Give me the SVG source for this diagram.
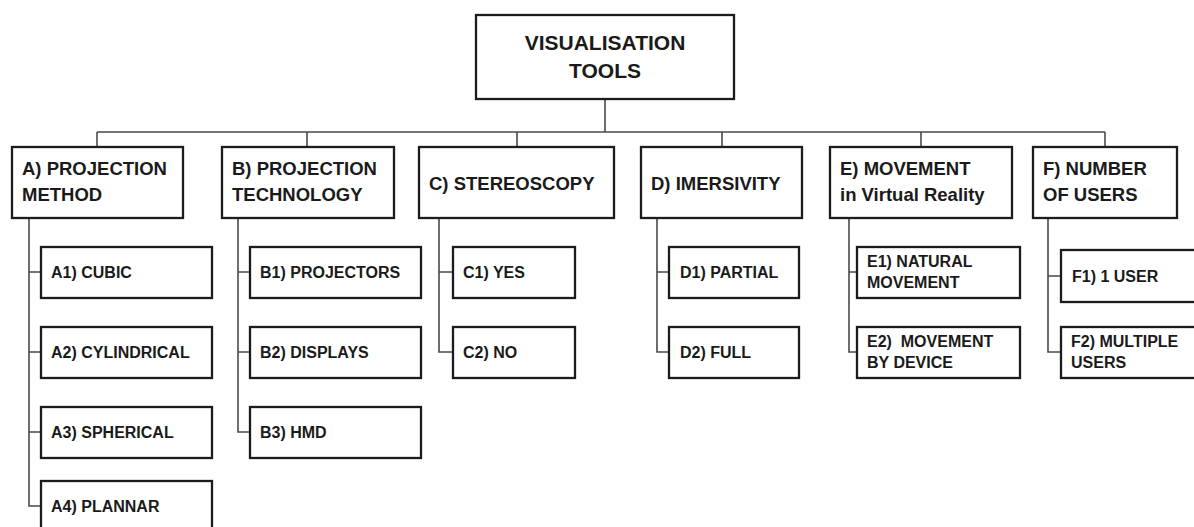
<svg xmlns="http://www.w3.org/2000/svg" width="1194" height="527" viewBox="0 0 1194 527">
<style>
.box{fill:#fff;stroke:#1c1c1c;stroke-width:2.3}
.ln{fill:none;stroke:#4a4a4a;stroke-width:1.6}
text{font-family:"Liberation Sans",Arial,sans-serif;font-weight:bold;fill:#1a1a1a;white-space:pre}
.root{font-size:21px;text-anchor:middle}
.h{font-size:18.5px}
.c{font-size:16px}
</style>
<rect width="1194" height="527" fill="#fff"/>
<g id="connectors">
<path class="ln" d="M605 99V132M97 132H1105M97 132V147M307 132V147M517 132V147M722 132V147M921 132V147M1105 132V147"/>
<path class="ln" d="M29 218V506H41M29 272H41M29 352H41M29 432H41"/>
<path class="ln" d="M238 218V432H250M238 272H250M238 352H250"/>
<path class="ln" d="M439 218V352H453M439 272H453"/>
<path class="ln" d="M657 218V352H669M657 272H669"/>
<path class="ln" d="M849 218V352H857M849 272H857"/>
<path class="ln" d="M1048 218V352H1061M1048 276H1061"/>
</g>
<g id="root"><rect class="box" x="476" y="15" width="258" height="84"/><text class="root" x="605" y="50">VISUALISATION</text><text class="root" x="605" y="78">TOOLS</text></g>
<g id="A"><rect class="box" x="12" y="147" width="171" height="71"/><text class="h" x="22" y="175">A) PROJECTION</text><text class="h" x="22" y="201">METHOD</text></g>
<g id="B"><rect class="box" x="222" y="147" width="172" height="71"/><text class="h" x="232" y="175">B) PROJECTION</text><text class="h" x="232" y="201">TECHNOLOGY</text></g>
<g id="C"><rect class="box" x="419" y="147" width="195" height="71"/><text class="h" x="429" y="190">C) STEREOSCOPY</text></g>
<g id="D"><rect class="box" x="641" y="147" width="161" height="71"/><text class="h" x="651" y="190">D) IMERSIVITY</text></g>
<g id="E"><rect class="box" x="830" y="147" width="182" height="71"/><text class="h" x="840" y="175">E) MOVEMENT</text><text class="h" x="840" y="201">in Virtual Reality</text></g>
<g id="F"><rect class="box" x="1033" y="147" width="144" height="71"/><text class="h" x="1043" y="175">F) NUMBER</text><text class="h" x="1043" y="201">OF USERS</text></g>
<g id="A1"><rect class="box" x="41" y="247" width="171" height="51"/><text class="c" x="51" y="278">A1) CUBIC</text></g>
<g id="A2"><rect class="box" x="41" y="327" width="171" height="51"/><text class="c" x="51" y="358">A2) CYLINDRICAL</text></g>
<g id="A3"><rect class="box" x="41" y="407" width="171" height="51"/><text class="c" x="51" y="438">A3) SPHERICAL</text></g>
<g id="A4"><rect class="box" x="41" y="481" width="171" height="51"/><text class="c" x="51" y="512">A4) PLANNAR</text></g>
<g id="B1"><rect class="box" x="250" y="247" width="171" height="51"/><text class="c" x="260" y="278">B1) PROJECTORS</text></g>
<g id="B2"><rect class="box" x="250" y="327" width="171" height="51"/><text class="c" x="260" y="358">B2) DISPLAYS</text></g>
<g id="B3"><rect class="box" x="250" y="407" width="171" height="51"/><text class="c" x="260" y="438">B3) HMD</text></g>
<g id="C1"><rect class="box" x="453" y="247" width="122" height="51"/><text class="c" x="463" y="278">C1) YES</text></g>
<g id="C2"><rect class="box" x="453" y="327" width="122" height="51"/><text class="c" x="463" y="358">C2) NO</text></g>
<g id="D1"><rect class="box" x="669" y="247" width="130" height="51"/><text class="c" x="680" y="278">D1) PARTIAL</text></g>
<g id="D2"><rect class="box" x="669" y="327" width="130" height="51"/><text class="c" x="680" y="358">D2) FULL</text></g>
<g id="E1"><rect class="box" x="857" y="247" width="163" height="51"/><text class="c" x="867" y="267">E1) NATURAL</text><text class="c" x="867" y="288">MOVEMENT</text></g>
<g id="E2"><rect class="box" x="857" y="327" width="163" height="51"/><text class="c" x="867" y="347">E2)  MOVEMENT</text><text class="c" x="867" y="368">BY DEVICE</text></g>
<g id="F1"><rect class="box" x="1061" y="250" width="150" height="52"/><text class="c" x="1072" y="282">F1) 1 USER</text></g>
<g id="F2"><rect class="box" x="1061" y="327" width="150" height="51"/><text class="c" x="1071" y="347">F2) MULTIPLE</text><text class="c" x="1071" y="368">USERS</text></g>
</svg>
